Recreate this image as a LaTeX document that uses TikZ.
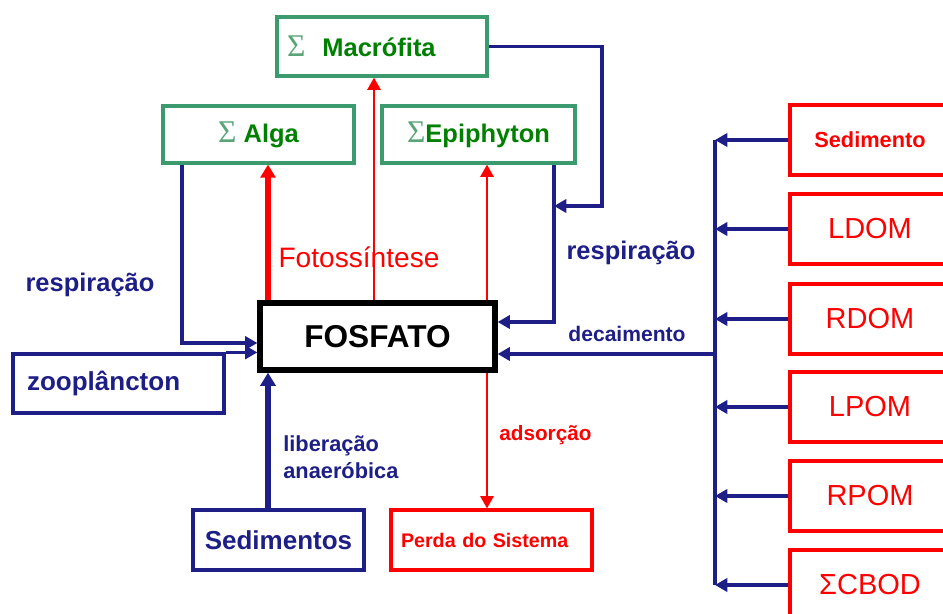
\documentclass[tikz,border=0pt]{standalone}
\usepackage{fontspec}
\setmainfont{Liberation Sans}
\newfontfamily\sigmafont{Liberation Serif}
\usetikzlibrary{arrows.meta}
\definecolor{navy}{RGB}{30,30,135}
\definecolor{leaf}{RGB}{0,128,0}
\definecolor{leafline}{RGB}{60,155,110}
\definecolor{sigmagreen}{RGB}{90,165,120}
\newcommand{\sumsign}{\textcolor{sigmagreen}{\sigmafont\mdseries\fontsize{18}{18}\selectfont Σ}}

\begin{document}
\begin{tikzpicture}[x=0.02cm,y=-0.02cm,
    greenbox/.style={draw=leafline,line width=1.8pt,text=leaf,font=\bfseries\fontsize{14.5}{17}\selectfont,minimum height=1.14cm},
    navybox/.style={draw=navy,line width=1.8pt,text=navy,font=\bfseries\fontsize{14.8}{17}\selectfont,minimum height=1.18cm},
    redbox/.style={draw=red,line width=1.8pt,text=red,minimum width=3.2cm,minimum height=1.4cm,font=\fontsize{16.5}{19}\selectfont},
    navyline/.style={draw=navy,line width=2pt},
    navyarrow/.style={navyline,-{Triangle[length=7pt,width=7.5pt]}},
    redarrow/.style={draw=red,line width=1.3pt,-{Triangle[length=7pt,width=7.5pt]}},
    lbl/.style={inner sep=0pt}]
  \useasboundingbox (0,0) rectangle (943,614);
  \clip (0,0) rectangle (943,614);

  % producers
  \node[greenbox,minimum width=4.2cm,minimum height=1.18cm,text width=3.8cm,inner xsep=0.2cm,align=left] (macro) at (382,46.5) {\sumsign\ \ Macrófita};
  \node[greenbox,minimum width=3.82cm] (alga) at (258.5,134.5) {\sumsign\ Alga};
  \node[greenbox,minimum width=3.86cm] (epi) at (478.5,134.5) {\sumsign Epiphyton};

  % centre
  \node[draw=black,line width=3pt,minimum width=4.7cm,minimum height=1.34cm,font=\bfseries\fontsize{18}{21}\selectfont] (fosfato) at (377.5,336.5) {FOSFATO};

  \node[navybox,minimum width=4.22cm,text width=3.66cm,inner xsep=0.28cm,align=left] (zoo) at (118.5,383.5) {zooplâncton};
  \node[navybox,minimum width=3.42cm,minimum height=1.2cm] (sed) at (278.5,540) {Sedimentos};
  \node[draw=red,line width=1.8pt,text=red,font=\bfseries\fontsize{11.2}{13}\selectfont,minimum width=4.02cm,minimum height=1.2cm,text width=3.62cm,inner xsep=0.2cm,align=left] (perda) at (491.5,540) {Perda do Sistema\\[4pt]};

  % right column
  \node[redbox,font=\bfseries\fontsize{12.4}{15}\selectfont] (sedi) at (870,140) {Sedimento};
  \foreach \nm/\txt/\yy in {ldom/LDOM/229,rdom/RDOM/319,lpom/LPOM/407,rpom/RPOM/496,cbod/ΣCBOD/585}
    \node[redbox] (\nm) at (870,\yy) {\txt};

  \coordinate (ra) at (182,343);
  \coordinate (lib) at (268,0);
  \coordinate (mx) at (374,0);
  \coordinate (ex) at (487,0);
  \coordinate (re) at (554,322);
  \coordinate (rm) at (602,206);
  \coordinate (dec) at (715,354);

  % uptake
  \draw[draw=red,line width=3pt,-{Triangle[length=7.5pt,width=8.5pt]}] (fosfato.north -| lib) -- (alga.south -| lib);
  \draw[redarrow] (fosfato.north -| mx) -- (macro.south -| mx);
  \draw[redarrow] (fosfato.north -| ex) -- (epi.south -| ex);
  \draw[redarrow] (fosfato.south -| ex) -- (perda.north -| ex);

  % respiration
  \draw[navyarrow] (alga.south -| ra) |- (fosfato.west |- ra);
  \draw[navyarrow] (zoo.north east) -- (fosfato.west |- zoo.north east);
  \draw[navyarrow] (epi.south -| re) |- (fosfato.east |- re);
  \draw[navyarrow] (macro.east) -| (rm) -- (rm -| re);
  \draw[navyline,line width=3pt,-{Triangle[length=7.5pt,width=8.5pt]}] (sed.north -| lib) -- (fosfato.south -| lib);

  % decay
  \draw[navyline] (sedi.west -| dec) -- (cbod.west -| dec);
  \foreach \nm in {sedi,ldom,rdom,lpom,rpom,cbod}
    \draw[navyarrow] (\nm.west) -- (\nm.west -| dec);
  \draw[navyarrow] (dec) -- (fosfato.east |- dec);

  % labels
  \node[lbl,text=navy,font=\bfseries\fontsize{14.5}{17}\selectfont] (resp1) at (90,285) {respiração};
  \node[lbl,text=red,font=\fontsize{16}{19}\selectfont] (foto) at (359,257) {Fotossíntese};
  \node[lbl,text=navy,font=\bfseries\fontsize{14.5}{17}\selectfont] (resp2) at (631,253) {respiração};
  \node[lbl,text=navy,font=\bfseries\fontsize{12}{14}\selectfont] (decai) at (627,334) {decaimento};
  \node[lbl,anchor=west,align=left,text=navy,font=\bfseries\fontsize{12.4}{15.4}\selectfont] (liber) at (283,457) {liberação\\anaeróbica};
  \node[lbl,anchor=west,text=red,font=\bfseries\fontsize{11.8}{14}\selectfont] (ads) at (499,435) {adsorção};
\end{tikzpicture}
\end{document}
